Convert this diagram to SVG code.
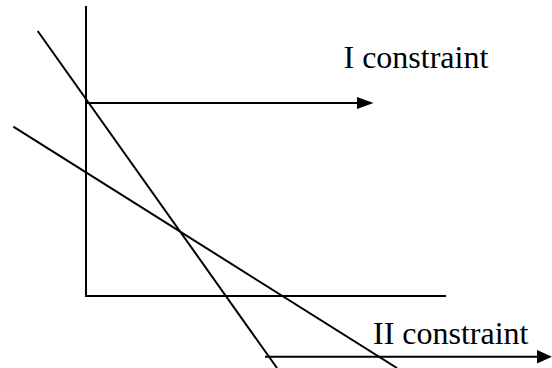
<svg xmlns="http://www.w3.org/2000/svg" width="552" height="368" viewBox="0 0 552 368">
<style>
.ln{stroke:#000;stroke-width:2;fill:none}
.lbl{font-family:"Liberation Serif","Times New Roman",serif;font-size:32px;fill:#000}
</style>
<rect width="552" height="368" fill="#fff"/>
<g id="axes">
<line class="ln" x1="86" y1="6" x2="86" y2="297"/>
<line class="ln" x1="85" y1="296" x2="446" y2="296"/>
</g>
<g id="constraint-lines">
<line class="ln" x1="37.7" y1="31" x2="277" y2="368"/>
<line class="ln" x1="13.3" y1="126.7" x2="397" y2="368"/>
</g>
<g id="connectors">
<line class="ln" x1="86" y1="103" x2="360" y2="103"/>
<polygon points="357,97 373.5,103 357,109" fill="#000"/>
<line class="ln" x1="265" y1="356.7" x2="540" y2="356.7"/>
<polygon points="537,350 552,356.7 537,363.4" fill="#000"/>
</g>
<g id="label-I">
<text class="lbl" x="343.5" y="68.3">I constraint</text>
</g>
<g id="label-II">
<text class="lbl" x="373" y="343.5">II constraint</text>
</g>
</svg>
